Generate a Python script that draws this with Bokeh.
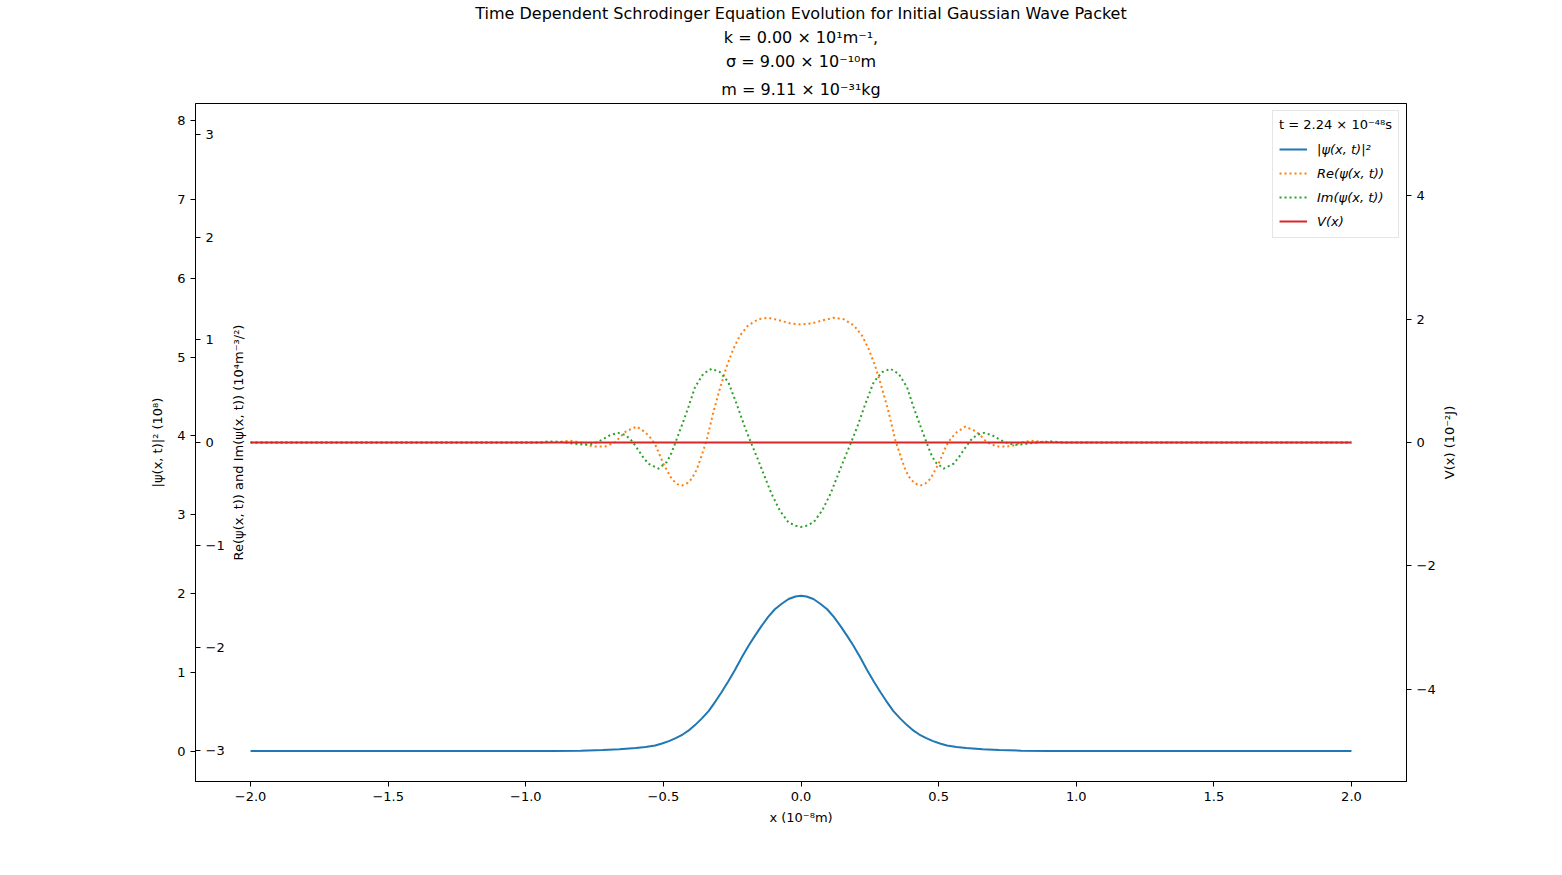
import math
from bokeh.plotting import figure
from bokeh.layouts import row
from bokeh.models import Range1d, LinearAxis, FixedTicker, Legend, LegendItem, Title, Label
from bokeh.embed import file_html
from bokeh.resources import INLINE

FONT = "DejaVu Sans"

# |psi(x,t)|^2 in units of 1e8, x in units of 1e-8 m
prob_x = [-2.0, -0.9, -0.8, -0.72, -0.66, -0.6, -0.565, -0.53, -0.505, -0.48, -0.455,
          -0.43, -0.405, -0.385, -0.36, -0.335, -0.31, -0.29, -0.265, -0.24, -0.215,
          -0.19, -0.17, -0.145, -0.12, -0.095, -0.07, -0.045, -0.02, 0.0,
          0.02, 0.045, 0.07, 0.095, 0.12, 0.145, 0.17, 0.19, 0.215, 0.24, 0.265,
          0.29, 0.31, 0.335, 0.36, 0.385, 0.405, 0.43, 0.455, 0.48, 0.505, 0.53,
          0.565, 0.6, 0.66, 0.72, 0.8, 0.9, 2.0]
prob = [0.0, 0.001, 0.005, 0.013, 0.023, 0.038, 0.052, 0.072, 0.097, 0.127, 0.165,
        0.21, 0.27, 0.33, 0.415, 0.51, 0.635, 0.74, 0.88, 1.03, 1.19,
        1.34, 1.45, 1.58, 1.7, 1.8, 1.87, 1.93, 1.962, 1.972,
        1.962, 1.93, 1.87, 1.8, 1.7, 1.58, 1.45, 1.34, 1.19, 1.03, 0.88,
        0.74, 0.635, 0.51, 0.415, 0.33, 0.27, 0.21, 0.165, 0.127, 0.097, 0.072,
        0.052, 0.038, 0.023, 0.013, 0.005, 0.001, 0.0]

# Re(psi) in units of 1e4 m^-3/2
re_x = [-2.0, -0.95, -0.87, -0.838, -0.8, -0.77, -0.745, -0.71, -0.675, -0.655, -0.635,
        -0.597, -0.566, -0.545, -0.528, -0.5, -0.47, -0.45, -0.433, -0.415, -0.397,
        -0.38, -0.367, -0.343, -0.318, -0.294, -0.27, -0.246, -0.222, -0.192, -0.155,
        -0.119, -0.08, -0.04, 0.0,
        0.04, 0.08, 0.119, 0.155, 0.192, 0.222, 0.246, 0.27, 0.294, 0.318, 0.343,
        0.367, 0.38, 0.397, 0.415, 0.433, 0.45, 0.47, 0.5, 0.528, 0.545, 0.566,
        0.597, 0.635, 0.655, 0.675, 0.71, 0.745, 0.77, 0.8, 0.838, 0.87, 0.95, 2.0]
re = [0.0, 0.0, 0.008, 0.018, 0.0, -0.03, -0.04, -0.038, 0.003, 0.06, 0.11,
      0.155, 0.1, 0.04, -0.03, -0.207, -0.354, -0.405, -0.419, -0.4, -0.354,
      -0.27, -0.175, 0.02, 0.3, 0.53, 0.74, 0.91, 1.04, 1.14, 1.2,
      1.214, 1.19, 1.16, 1.148,
      1.16, 1.19, 1.214, 1.2, 1.14, 1.04, 0.91, 0.74, 0.53, 0.3, 0.02,
      -0.175, -0.27, -0.354, -0.4, -0.419, -0.405, -0.354, -0.207, -0.03, 0.04, 0.1,
      0.155, 0.11, 0.06, 0.003, -0.038, -0.04, -0.03, 0.0, 0.018, 0.008, 0.0, 0.0]

# Im(psi) in units of 1e4 m^-3/2
im_x = [-2.0, -0.95, -0.917, -0.87, -0.82, -0.784, -0.755, -0.723, -0.695, -0.665,
        -0.64, -0.621, -0.605, -0.59, -0.572, -0.554, -0.518, -0.488, -0.472, -0.458,
        -0.433, -0.409, -0.385, -0.355, -0.325, -0.294, -0.264, -0.234, -0.204, -0.18,
        -0.155, -0.131, -0.107, -0.077, -0.046, -0.02, 0.0,
        0.02, 0.046, 0.077, 0.107, 0.131, 0.155, 0.18, 0.204, 0.234, 0.264, 0.294,
        0.325, 0.355, 0.385, 0.409, 0.433, 0.458, 0.472, 0.488, 0.518, 0.554, 0.572,
        0.59, 0.605, 0.621, 0.64, 0.665, 0.695, 0.723, 0.755, 0.784, 0.82, 0.87,
        0.917, 0.95, 2.0]
im = [0.0, 0.0, 0.01, 0.005, -0.013, -0.023, -0.012, 0.026, 0.07, 0.094,
      0.075, 0.036, -0.02, -0.078, -0.15, -0.207, -0.254, -0.191, -0.11, -0.013,
      0.166, 0.344, 0.539, 0.669, 0.717, 0.685, 0.587, 0.377, 0.149, -0.013,
      -0.175, -0.338, -0.5, -0.662, -0.776, -0.81, -0.822,
      -0.81, -0.776, -0.662, -0.5, -0.338, -0.175, -0.013, 0.149, 0.377, 0.587, 0.685,
      0.717, 0.669, 0.539, 0.344, 0.166, -0.013, -0.11, -0.191, -0.254, -0.207, -0.15,
      -0.078, -0.02, 0.036, 0.075, 0.094, 0.07, 0.026, -0.012, -0.023, -0.013, 0.005,
      0.01, 0.0, 0.0]

# V(x) in units of 1e-2 J
pot_x = [-2.0, 2.0]
pot = [0.0, 0.0]

x_ticks = [-2.0, -1.5, -1.0, -0.5, 0.0, 0.5, 1.0, 1.5, 2.0]
prob_ticks = [0, 1, 2, 3, 4, 5, 6, 7, 8]
wave_ticks = [-3, -2, -1, 0, 1, 2, 3]
pot_ticks = [-4, -2, 0, 2, 4]

title_lines = [
    "Time Dependent Schrodinger Equation Evolution for Initial Gaussian Wave Packet",
    "k = 0.00 × 10¹m⁻¹,",
    "σ = 9.00 × 10⁻¹⁰m",
    "m = 9.11 × 10⁻³¹kg",
]
legend_title = "t = 2.24 × 10⁻⁴⁸s"
wave_label = "Re(ψ(x, t)) and Im(ψ(x, t)) (10⁴m⁻³/²)"
pot_label = "V(x) (10⁻²J)"


def minus(v, fmt):
    return fmt.format(v).replace("-", "\u2212")


H = 873
FRAME_TOP, FRAME_BOTTOM = 103, 781
W = 1440
p = figure(width=W, height=H, output_backend="svg", toolbar_location=None, title=None,
           x_range=Range1d(-2.2, 2.2), y_range=Range1d(-0.386, 8.22),
           min_border_left=195, min_border_right=W - 1406,
           min_border_top=0, min_border_bottom=H - FRAME_BOTTOM)
p.extra_y_ranges = {"wave": Range1d(-3.3, 3.3), "pot": Range1d(-5.5, 5.5)}

# stacked title lines, closest to the plot first
for i, line in enumerate(reversed(title_lines)):
    t = Title(text=line, align="center", text_font=FONT, text_font_size="16px",
              text_font_style="normal", text_color="black", standoff=10 if i == 0 else 3)
    p.add_layout(t, "above")

p.grid.visible = False
p.outline_line_color = "black"
p.outline_line_width = 1

r_prob = p.line(prob_x, prob, line_color="#1f77b4", line_width=2)
r_re = p.line(re_x, re, y_range_name="wave", line_color="#ff7f0e", line_width=2,
              line_dash="2 3")
r_im = p.line(im_x, im, y_range_name="wave", line_color="#2ca02c", line_width=2,
              line_dash="2 3")
r_pot = p.line(pot_x, pot, y_range_name="pot", line_color="#d62728", line_width=2)


def style_axis(ax, ticks, fmt):
    ax.ticker = FixedTicker(ticks=ticks)
    ax.major_label_overrides = {t: minus(t, fmt) for t in ticks}
    ax.minor_tick_line_color = None
    ax.major_tick_out = 5
    ax.major_tick_in = 0
    ax.major_label_text_font = FONT
    ax.major_label_text_font_size = "13px"
    ax.major_label_text_color = "black"
    ax.axis_label_text_font = FONT
    ax.axis_label_text_font_size = "13px"
    ax.axis_label_text_font_style = "normal"
    ax.axis_label_text_color = "black"
    ax.axis_line_color = "black"


style_axis(p.xaxis[0], x_ticks, "{:.1f}")
p.xaxis[0].axis_label = "x (10⁻⁸m)"
p.xaxis[0].axis_label_standoff = 6

style_axis(p.yaxis[0], prob_ticks, "{:d}")
p.yaxis[0].axis_label = "|ψ(x, t)|² (10⁸)"
p.yaxis[0].axis_label_standoff = 9

pot_axis = LinearAxis(y_range_name="pot")
style_axis(pot_axis, pot_ticks, "{:d}")
p.add_layout(pot_axis, "right")

wave_axis = LinearAxis(y_range_name="wave", fixed_location=-2.2)
style_axis(wave_axis, wave_ticks, "{:d}")
p.add_layout(wave_axis, "right")

# title of the Re/Im scale, just inside the frame next to its tick labels
p.add_layout(Label(x=-2.2, y=0, y_range_name="wave", x_offset=43, text=wave_label,
                   angle=math.pi / 2, text_align="center", text_baseline="middle",
                   text_font=FONT, text_font_size="13px", text_color="black"))

legend = Legend(items=[
    LegendItem(label="|ψ(x, t)|²", renderers=[r_prob]),
    LegendItem(label="Re(ψ(x, t))", renderers=[r_re]),
    LegendItem(label="Im(ψ(x, t))", renderers=[r_im]),
    LegendItem(label="V(x)", renderers=[r_pot]),
], location="top_right")
legend.title = legend_title
legend.title_text_font = FONT
legend.title_text_font_size = "13px"
legend.title_text_font_style = "normal"
legend.title_text_color = "black"
legend.title_standoff = 7
legend.label_text_font = FONT
legend.label_text_font_size = "13px"
legend.label_text_font_style = "italic"
legend.label_text_color = "black"
legend.margin = 7
legend.padding = 6
legend.spacing = 4
legend.label_height = 20
legend.glyph_height = 20
legend.glyph_width = 28
legend.label_standoff = 10
legend.border_line_color = "#cccccc"
legend.background_fill_alpha = 0.8
p.add_layout(legend)

# narrow strip to the right holding the V(x) axis title, reading bottom to top
side = figure(width=40, height=H, output_backend="svg", toolbar_location=None,
              title=None, x_range=Range1d(0, 40), y_range=Range1d(-1, 1),
              min_border_left=0, min_border_right=0,
              min_border_top=FRAME_TOP, min_border_bottom=H - FRAME_BOTTOM)
side.axis.visible = False
side.grid.visible = False
side.outline_line_color = None
side.add_layout(Label(x=9, y=0, text=pot_label, angle=math.pi / 2,
                      text_align="center", text_baseline="middle",
                      text_font=FONT, text_font_size="13px", text_color="black"))

layout = row(p, side)
open("out.html", "w").write(file_html(layout, INLINE))
